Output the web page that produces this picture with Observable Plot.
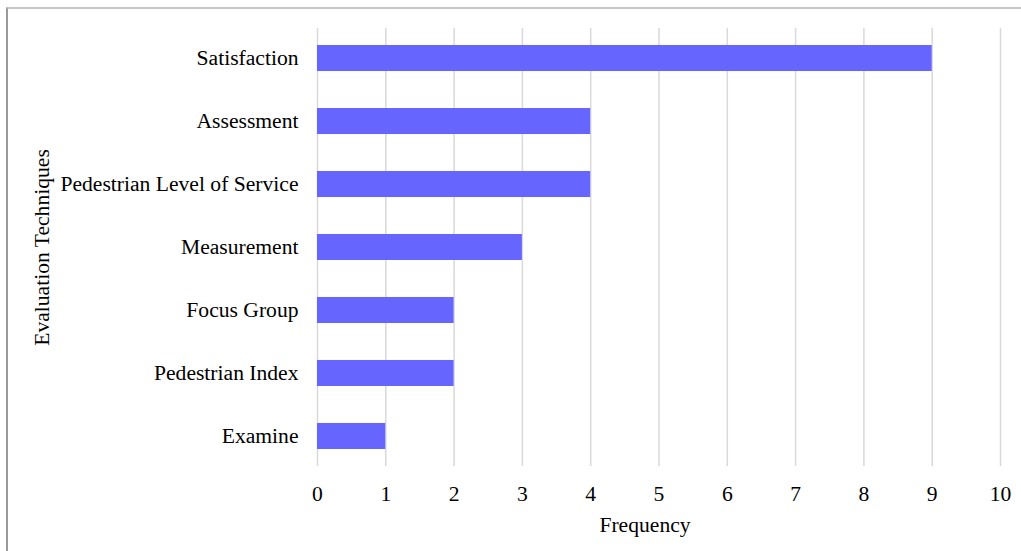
<!DOCTYPE html>
<html>
<head>
<meta charset="utf-8">
<script src="https://cdn.jsdelivr.net/npm/d3@7"></script>
<script src="https://cdn.jsdelivr.net/npm/@observablehq/plot@0.6"></script>
<style>
  html, body { margin: 0; padding: 0; background: #fff; }
  #wrap { position: relative; width: 1021px; height: 551px; overflow: hidden; }
  #frame { position: absolute; left: 6px; top: 7px; right: -10px; bottom: -10px;
           border-top: 2px solid #c6c6c6; border-left: 2px solid #9a9a9a; pointer-events: none; }
  #chart { position: absolute; left: 0; top: 0; }
</style>
</head>
<body>
<div id="wrap"><div id="chart"></div><div id="frame"></div></div>
<script>
const categories = ["Satisfaction", "Assessment", "Pedestrian Level of Service", "Measurement", "Focus Group", "Pedestrian Index", "Examine"];
const frequencies = [9, 4, 4, 3, 2, 2, 1];
const xTicks = [0, 1, 2, 3, 4, 5, 6, 7, 8, 9, 10];
const xTitle = ["Frequency"];
const yTitle = "Evaluation Techniques";

const data = categories.map((c, i) => ({technique: c, frequency: frequencies[i]}));

const chart = Plot.plot({
  width: 1021,
  height: 551,
  marginLeft: 317,
  marginRight: 21,
  marginTop: 28,
  marginBottom: 85,
  style: {fontFamily: "'Liberation Serif', 'Times New Roman', serif", fontSize: "21.6px", color: "#000", background: "transparent"},
  x: {domain: [0, 10]},
  y: {domain: categories, paddingInner: 0.587, paddingOuter: 0.27, round: false},
  marks: [
    Plot.gridX(xTicks, {stroke: "#d9d9d9", strokeOpacity: 1, strokeWidth: 1.5}),
    Plot.barX(data, {x: "frequency", y: "technique", fill: "#6666ff"}),
    Plot.axisX(xTicks, {tickSize: 0, tickPadding: 19, label: null, fontSize: 21.6, tickFormat: d => String(d)}),
    Plot.text(xTitle, {text: d => d, frameAnchor: "bottom", dx: -14, dy: 65, fontSize: 21.6, fill: "#000"}),
    Plot.axisY({tickSize: 0, tickPadding: 19, label: yTitle, labelAnchor: "center", labelOffset: 284, fontSize: 21.6})
  ]
});
document.getElementById("chart").appendChild(chart);
</script>
</body>
</html>
